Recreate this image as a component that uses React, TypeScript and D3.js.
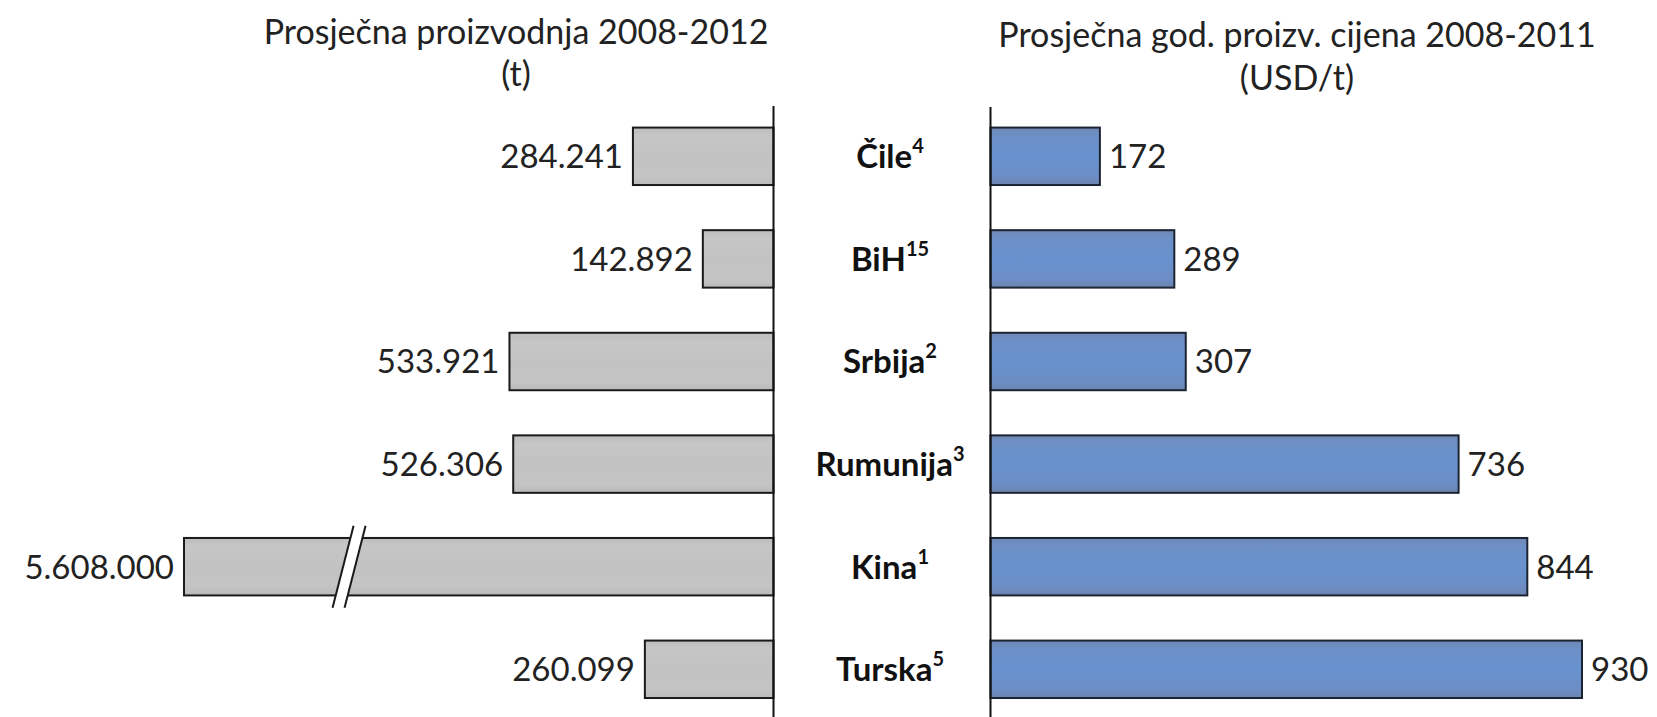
import React from "react";
import * as d3 from "d3";

const categories = ["Čile", "BiH", "Srbija", "Rumunija", "Kina", "Turska"];
const footnotes = ["4", "15", "2", "3", "1", "5"];
const production = [284241, 142892, 533921, 526306, 5608000, 260099];
const price = [172, 289, 307, 736, 844, 930];
const leftTitle = ["Prosječna proizvodnja 2008-2012", "(t)"];
const rightTitle = ["Prosječna god. proizv. cijena 2008-2011", "(USD/t)"];
// value at which the (broken) production axis is cut
const BREAK_CAP = 1192000;

const W = 1657;
const H = 717;
const FONT = "Lato, 'Open Sans', sans-serif";

const locale = d3.formatLocale({ decimal: ",", thousands: ".", grouping: [3], currency: ["", ""] });
const fmt = locale.format(",");

export default function App() {
  const leftAxisX = 773.5;
  const rightAxisX = 990.5;
  const y = d3.scaleBand<string>().domain(categories).range([105, 105 + 6 * 102.6]).paddingInner(0.44).paddingOuter(0.22);
  const xL = d3.scaleLinear().domain([0, BREAK_CAP]).range([leftAxisX, 184]).clamp(true);
  const xR = d3.scaleLinear().domain([0, 930]).range([rightAxisX, 1582]);
  const bw = y.bandwidth();
  const midX = 890;

  return (
    <svg width={W} height={H} style={{ position: "absolute", left: 0, top: 0, background: "#fff" }} fontFamily={FONT}>
      <defs>
        <linearGradient id="gray" x1="0" y1="0" x2="0" y2="1">
          <stop offset="0" stopColor="#bdbdbd" />
          <stop offset="0.15" stopColor="#c6c6c6" />
          <stop offset="0.5" stopColor="#c2c2c2" />
          <stop offset="0.85" stopColor="#c4c4c4" />
          <stop offset="1" stopColor="#bababa" />
        </linearGradient>
        <linearGradient id="blue" x1="0" y1="0" x2="0" y2="1">
          <stop offset="0" stopColor="#6f87b3" />
          <stop offset="0.12" stopColor="#6e8fc6" />
          <stop offset="0.5" stopColor="#6893cf" />
          <stop offset="0.88" stopColor="#6d8cc3" />
          <stop offset="1" stopColor="#6c84ad" />
        </linearGradient>
      </defs>
      <rect x={0} y={0} width={W} height={H} fill="#fff" />

      {/* titles */}
      <g fill="#222" fontSize={34} textAnchor="middle">
        <text x={516} y={44}>{leftTitle[0]}</text>
        <text x={516} y={86}>{leftTitle[1]}</text>
        <text x={1297} y={47}>{rightTitle[0]}</text>
        <text x={1297} y={90}>{rightTitle[1]}</text>
      </g>

      {/* left bars */}
      {categories.map((c, i) => {
        const x0 = xL(production[i]);
        const yy = y(c)!;
        return (
          <g key={"l" + c}>
            <rect x={x0} y={yy} width={leftAxisX - x0} height={bw} fill="url(#gray)" stroke="#1a1a1a" strokeWidth={2} />
            <text x={x0 - 10} y={yy + bw / 2} dy="0.36em" textAnchor="end" fontSize={33} fill="#222">
              {fmt(production[i])}
            </text>
            {production[i] > BREAK_CAP && (() => {
              const bx = x0 + (leftAxisX - x0) * 0.28;
              const cy = yy + bw / 2;
              const hh = 41;
              const sl = 10.5;
              const gap = 6;
              return (
                <g>
                  <polygon
                    points={`${bx - gap + sl},${cy - hh} ${bx + gap + sl},${cy - hh} ${bx + gap - sl},${cy + hh} ${bx - gap - sl},${cy + hh}`}
                    fill="#fff"
                  />
                  <line x1={bx - gap + sl} y1={cy - hh} x2={bx - gap - sl} y2={cy + hh} stroke="#1a1a1a" strokeWidth={2} />
                  <line x1={bx + gap + sl} y1={cy - hh} x2={bx + gap - sl} y2={cy + hh} stroke="#1a1a1a" strokeWidth={2} />
                </g>
              );
            })()}
          </g>
        );
      })}

      {/* right bars */}
      {categories.map((c, i) => {
        const yy = y(c)!;
        const x1 = xR(price[i]);
        return (
          <g key={"r" + c}>
            <rect x={rightAxisX} y={yy} width={x1 - rightAxisX} height={bw} fill="url(#blue)" stroke="#1c2433" strokeWidth={2} />
            <text x={x1 + 9} y={yy + bw / 2} dy="0.36em" textAnchor="start" fontSize={33} fill="#222">
              {price[i]}
            </text>
          </g>
        );
      })}

      {/* axis lines */}
      <line x1={leftAxisX} x2={leftAxisX} y1={106} y2={H} stroke="#111" strokeWidth={2} />
      <line x1={rightAxisX} x2={rightAxisX} y1={107} y2={H} stroke="#111" strokeWidth={2} />

      {/* category labels */}
      {categories.map((c, i) => (
        <text key={"c" + c} x={midX} y={y(c)! + bw / 2} dy="0.36em" textAnchor="middle" fontSize={33} fontWeight="bold" fill="#111">
          {c}
          <tspan fontSize={20} dy="-0.75em">{footnotes[i]}</tspan>
        </text>
      ))}
    </svg>
  );
}
